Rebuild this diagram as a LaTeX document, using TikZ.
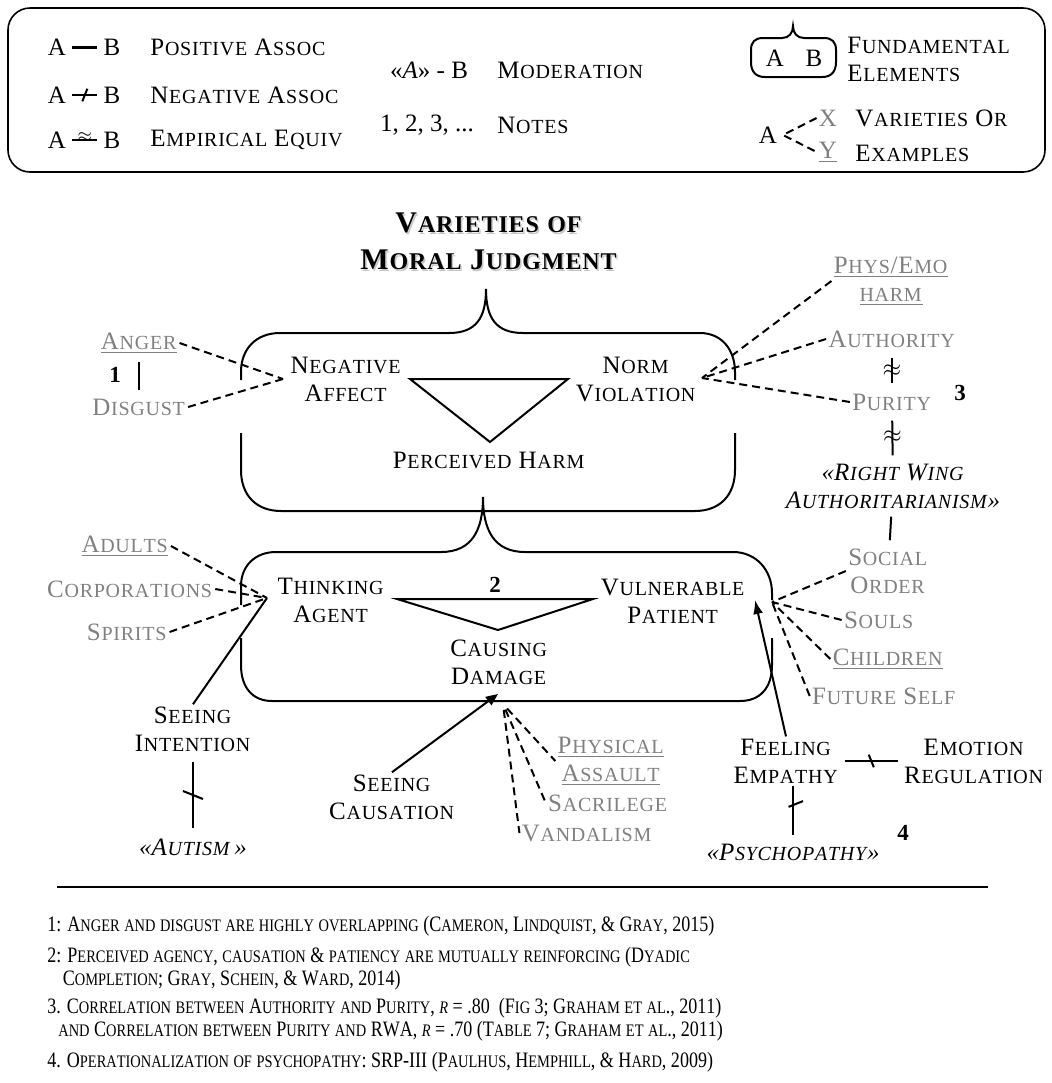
\documentclass[tikz,border=0pt]{standalone}
\usepackage{fontspec}
\setmainfont{Liberation Serif}
\newfontfamily\scsmallfont{Liberation Serif}[Scale=0.8]
\usetikzlibrary{arrows.meta,decorations.markings}
\definecolor{labelgray}{gray}{0.5}

% fake small caps: capitals full size, lower case as small capitals
\newcommand\fsckern{0.03em}
\ExplSyntaxOn
\seq_new:N \l_fsc_words_seq
\bool_new:N \l_fsc_first_bool
\NewDocumentCommand \FSC { m }
  {
    \seq_set_split:Nnn \l_fsc_words_seq { ~ } {#1}
    \bool_set_true:N \l_fsc_first_bool
    \seq_map_inline:Nn \l_fsc_words_seq
      {
        \bool_if:NF \l_fsc_first_bool { \c_space_tl }
        \bool_set_false:N \l_fsc_first_bool
        \tl_map_inline:nn {##1} { \fsc_char:n {####1} }
      }
  }
\cs_new_protected:Npn \fsc_char:n #1
  {
    \str_if_eq:eeTF {#1} { \text_uppercase:n {#1} }
      { #1 }
      { { \scsmallfont \text_uppercase:n {#1} } }
    \kern \fsckern \scan_stop:
  }
\ExplSyntaxOff

\tikzset{
  negtick/.style={postaction={decorate, decoration={markings,
      mark=at position #1 with {\draw[line width=1pt] (-2pt,-5pt) -- (2pt,5pt);}}}},
  negtick/.default=0.5,
  negtickb/.style={postaction={decorate, decoration={markings,
      mark=at position #1 with {\draw[line width=1pt] (-2pt,5pt) -- (2pt,-5pt);}}}},
  negtickb/.default=0.5,
}

\begin{document}
\begin{tikzpicture}[x=0.5pt, y=-0.5pt,
    lbl/.style={font=\fontsize{12.5}{14}\selectfont, align=center, inner sep=1pt},
    gry/.style={lbl, text=labelgray},
    num/.style={font=\fontsize{11.5}{13}\selectfont\bfseries, inner sep=1pt},
    bubble/.style={line width=1pt},
    link/.style={line width=1pt},
    dashline/.style={line width=1pt, dash pattern=on 4pt off 2.5pt},
    fnote/.style={anchor=west, align=left, inner sep=0pt,
      font=\fontsize{11}{11.5}\selectfont\def\fsckern{0em}}]
  \useasboundingbox (0,0) rectangle (1052,1083);

  % legend
  \draw[line width=0.8pt, rounded corners=11pt] (8,8) rectangle (1045,172);
  \node[lbl] (posA) at (57,47) {A};
  \node[lbl] (posB) at (112,47) {B};
  \draw[line width=1.5pt, shorten <=2pt, shorten >=2pt] (posA) -- (posB);
  \node[lbl, anchor=west] (postxt) at (148,47) {\FSC{Positive Assoc}};
  \node[lbl] (negA) at (57,95) {A};
  \node[lbl] (negB) at (112,95) {B};
  \draw[link, negtick, shorten <=2pt, shorten >=2pt] (negA) -- (negB);
  \node[lbl, anchor=west] (negtxt) at (148,95) {\FSC{Negative Assoc}};
  \node[lbl] (eqvA) at (57,140) {A};
  \node[lbl] (eqvB) at (112,140) {B};
  \draw[link, shorten <=2pt, shorten >=2pt] (eqvA) -- (eqvB)
    node[midway, above=-1pt, inner sep=0pt, font=\small] (eqvsym) {$\approx$};
  \node[lbl, anchor=west] (eqvtxt) at (148,140) {\FSC{Empirical Equiv}};

  \node[lbl] (modsym) at (429,70) {«\textit{A}» - B};
  \node[lbl, anchor=west] (modtxt) at (495,70) {\FSC{Moderation}};
  \node[lbl] (notesym) at (427,125) {1, 2, 3, ...};
  \node[lbl, anchor=west] (notetxt) at (495,125) {\FSC{Notes}};

  \draw[bubble] (751,62) -- (751,50) .. controls (751,42) and (755,38) .. (763,38)
    -- (782,38) .. controls (789,38) and (793,33) .. (793,26)
    .. controls (793,33) and (797,38) .. (804,38) -- (824,38)
    .. controls (832,38) and (836,42) .. (836,50) -- (836,62)
    .. controls (836,72) and (831,77) .. (822,77) -- (765,77)
    .. controls (756,77) and (751,72) .. (751,62);
  \node[lbl] (fundA) at (775,58) {A};
  \node[lbl] (fundB) at (814,58) {B};
  \node[lbl, anchor=west] (fundtxt1) at (845,45) {\FSC{Fundamental}};
  \node[lbl, anchor=west] (fundtxt2) at (845,73) {\FSC{Elements}};

  \node[lbl] (varA) at (768,135) {A};
  \node[gry] (varX) at (828,118) {X};
  \node[gry] (varY) at (828,152) {\underline{Y}};
  \coordinate (vartip) at (783,135);
  \draw[dashline] (varX.west) -- (vartip) -- (varY.west);
  \node[lbl, anchor=west] (vartxt1) at (853,118) {\FSC{Varieties Or}};
  \node[lbl, anchor=west] (vartxt2) at (853,153) {\FSC{Examples}};

  % title
  \node[font=\fontsize{15}{18.5}\selectfont\bfseries, align=center, text=black!22] (titleshadow)
    at (490.5,243) {\FSC{Varieties of}\\\FSC{Moral Judgment}};
  \node[font=\fontsize{15}{18.5}\selectfont\bfseries, align=center] (title)
    at (489,241) {\FSC{Varieties of}\\\FSC{Moral Judgment}};

  % upper bubble
  \draw[bubble] (241,380) -- (241,372) .. controls (241,349) and (256,333) .. (280,333)
    -- (449,333) .. controls (476,333) and (486,318) .. (486,289)
    .. controls (486,318) and (496,333) .. (523,333) -- (700,333)
    .. controls (721,333) and (735,349) .. (735,372) -- (735,380);
  \draw[bubble] (241,433) -- (241,470) .. controls (241,495) and (256,511) .. (281,511)
    -- (695,511) .. controls (720,511) and (735,495) .. (735,470) -- (735,433);
  \node[lbl] (negaff) at (346,379) {\FSC{Negative}\\\FSC{Affect}};
  \node[lbl] (normviol) at (636,379) {\FSC{Norm}\\\FSC{Violation}};
  \draw[link] (410,379) -- (568,379) -- (490,442) -- cycle;
  \node[lbl] (harm) at (489,460) {\FSC{Perceived Harm}};

  \coordinate (naff) at (283,379);
  \coordinate (nviol) at (702,378);
  \node[gry] (anger) at (139,343) {\underline{\FSC{Anger}}};
  \node[gry] (disgust) at (139,407) {\FSC{Disgust}};
  \node[num] (n1) at (115,375) {1};
  \draw[link, shorten <=3pt, shorten >=3pt] (anger) -- (disgust);
  \draw[dashline] (anger.east) -- (naff);
  \draw[dashline] (disgust.east) -- (naff);

  \node[gry] (physemo) at (891,281) {\underline{\FSC{Phys/Emo}}\\\underline{\FSC{harm}}};
  \node[gry] (authority) at (892,339) {\FSC{Authority}};
  \node[gry] (purity) at (892,402) {\FSC{Purity}};
  \node[num] (n3) at (960,393) {3};
  \node[lbl, font=\fontsize{12.5}{14}\selectfont\itshape] (rwa) at (893,486)
    {«\FSC{Right Wing}\\\FSC{Authoritarianism}»};
  \draw[dashline] (physemo.west) -- (nviol);
  \draw[dashline] (authority.west) -- (nviol);
  \draw[dashline] (purity.west) -- (nviol);
  \draw[link, shorten <=4pt, shorten >=4pt] (authority) -- (purity)
    node[midway, inner sep=0pt, font=\large] (eqv1) {$\approx$};
  \draw[link, shorten <=4pt, shorten >=3pt] (purity) -- (rwa)
    node[midway, inner sep=0pt, font=\large] (eqv2) {$\approx$};

  % lower bubble
  \draw[bubble] (241,605) -- (241,586) .. controls (241,566) and (255,552) .. (276,552)
    -- (441,552) .. controls (472,552) and (483,530) .. (483,497)
    .. controls (483,530) and (494,552) .. (525,552) -- (733,552)
    .. controls (756,552) and (772,570) .. (772,593) -- (772,600);
  \draw[bubble] (241,638) -- (241,665) .. controls (241,688) and (253,701) .. (272,701)
    -- (740,701) .. controls (760,701) and (772,688) .. (772,665) -- (772,638);
  \node[lbl] (agent) at (331,600) {\FSC{Thinking}\\\FSC{Agent}};
  \node[lbl] (patient) at (673,601) {\FSC{Vulnerable}\\\FSC{Patient}};
  \node[num] (n2) at (495,585) {2};
  \draw[link] (397,599) -- (593,599) -- (498,630) -- cycle;
  \node[lbl] (damage) at (499,662) {\FSC{Causing}\\\FSC{Damage}};

  \coordinate (tagent) at (267,598);
  \coordinate (vpat) at (772,602);
  \coordinate (vpin) at (755,600);
  \coordinate (cdmg) at (498,694);
  \coordinate (dmgbase) at (503,704);

  \node[gry] (adults) at (125,546) {\underline{\FSC{Adults}}};
  \node[gry] (corporations) at (130,589) {\FSC{Corporations}};
  \node[gry] (spirits) at (127,632) {\FSC{Spirits}};
  \draw[dashline] (adults.east) -- (tagent);
  \draw[dashline] (corporations.east) -- (tagent);
  \draw[dashline] (spirits.east) -- (tagent);

  \node[lbl] (seeint) at (193,729) {\FSC{Seeing}\\\FSC{Intention}};
  \node[lbl, font=\fontsize{12.5}{14}\selectfont\itshape] (autism) at (193,847) {«\FSC{Autism}\,»};
  \draw[link] (seeint.north) -- (tagent);
  \draw[link, shorten <=4pt, shorten >=4pt] (seeint) -- (autism) coordinate[pos=0.5] (autmid);
  \draw[link] ([shift={(-5pt,2pt)}]autmid) -- ([shift={(5pt,-2pt)}]autmid);

  \node[lbl] (seecaus) at (392,797) {\FSC{Seeing}\\\FSC{Causation}};
  \draw[link, -{Triangle[length=6pt,width=5pt]}] (seecaus.north) -- (cdmg);

  \node[gry] (assault) at (611,761) {\underline{\FSC{Physical}}\\\underline{\FSC{Assault}}};
  \node[gry] (sacrilege) at (608,803) {\FSC{Sacrilege}};
  \node[gry] (vandalism) at (587,833) {\FSC{Vandalism}};
  \draw[dashline, shorten <=3pt] (dmgbase) -- (assault.west);
  \draw[dashline, shorten <=3pt] (dmgbase) -- (sacrilege.west);
  \draw[dashline, shorten <=3pt] (dmgbase) -- (vandalism.west);

  \node[gry] (social) at (888,571) {\FSC{Social}\\\FSC{Order}};
  \node[gry] (souls) at (879,620) {\FSC{Souls}};
  \node[gry] (children) at (888,659) {\underline{\FSC{Children}}};
  \node[gry] (future) at (884,696) {\FSC{Future Self}};
  \draw[link, shorten <=3pt, shorten >=3pt] (rwa) -- (social);
  \draw[dashline] (social.west) -- (vpat);
  \draw[dashline] (souls.west) -- (vpat);
  \draw[dashline] (children.west) -- (vpat);
  \draw[dashline] (future.west) -- (vpat);

  \node[lbl] (empathy) at (786,761) {\FSC{Feeling}\\\FSC{Empathy}};
  \node[lbl] (emoreg) at (974,761) {\FSC{Emotion}\\\FSC{Regulation}};
  \node[lbl, font=\fontsize{12.5}{14}\selectfont\itshape] (psycho) at (793,852) {«\FSC{Psychopathy}»};
  \node[num] (n4) at (903,833) {4};
  \draw[link, -{Latex[length=7pt,width=5pt]}] (empathy.north) -- (vpin);
  \draw[link, negtickb, shorten <=2pt, shorten >=2pt] (empathy) -- (emoreg);
  \draw[link, negtickb=0.35, shorten >=3pt] (empathy.south -| psycho) -- (psycho);

  % notes
  \draw[line width=0.6pt] (57,887) -- (988,887);
  \node[fnote] (note1) at (47,926) {\scalebox{0.82}[1]{\FSC{1: Anger and disgust are highly overlapping (Cameron, Lindquist, \& Gray, 2015)}}};
  \node[fnote] (note2) at (47,969) {\scalebox{0.82}[1]{\FSC{2: Perceived agency, causation \& patiency are mutually reinforcing (Dyadic}}\\
    \hspace{0.7em}\scalebox{0.82}[1]{\FSC{Completion; Gray, Schein, \& Ward, 2014)}}};
  \node[fnote] (note3) at (47,1020) {\scalebox{0.82}[1]{\FSC{3. Correlation between Authority and Purity,} \textit{\FSC{r}} \FSC{= .80}\enspace\FSC{(Fig 3; Graham et al., 2011)}}\\
    \hspace{0.5em}\scalebox{0.82}[1]{\FSC{and Correlation between Purity and RWA,} \textit{\FSC{r}} \FSC{= .70 (Table 7; Graham et al., 2011)}}};
  \node[fnote] (note4) at (47,1062) {\scalebox{0.82}[1]{\FSC{4. Operationalization of psychopathy: SRP-III (Paulhus, Hemphill, \& Hard, 2009)}}};
\end{tikzpicture}
\end{document}
